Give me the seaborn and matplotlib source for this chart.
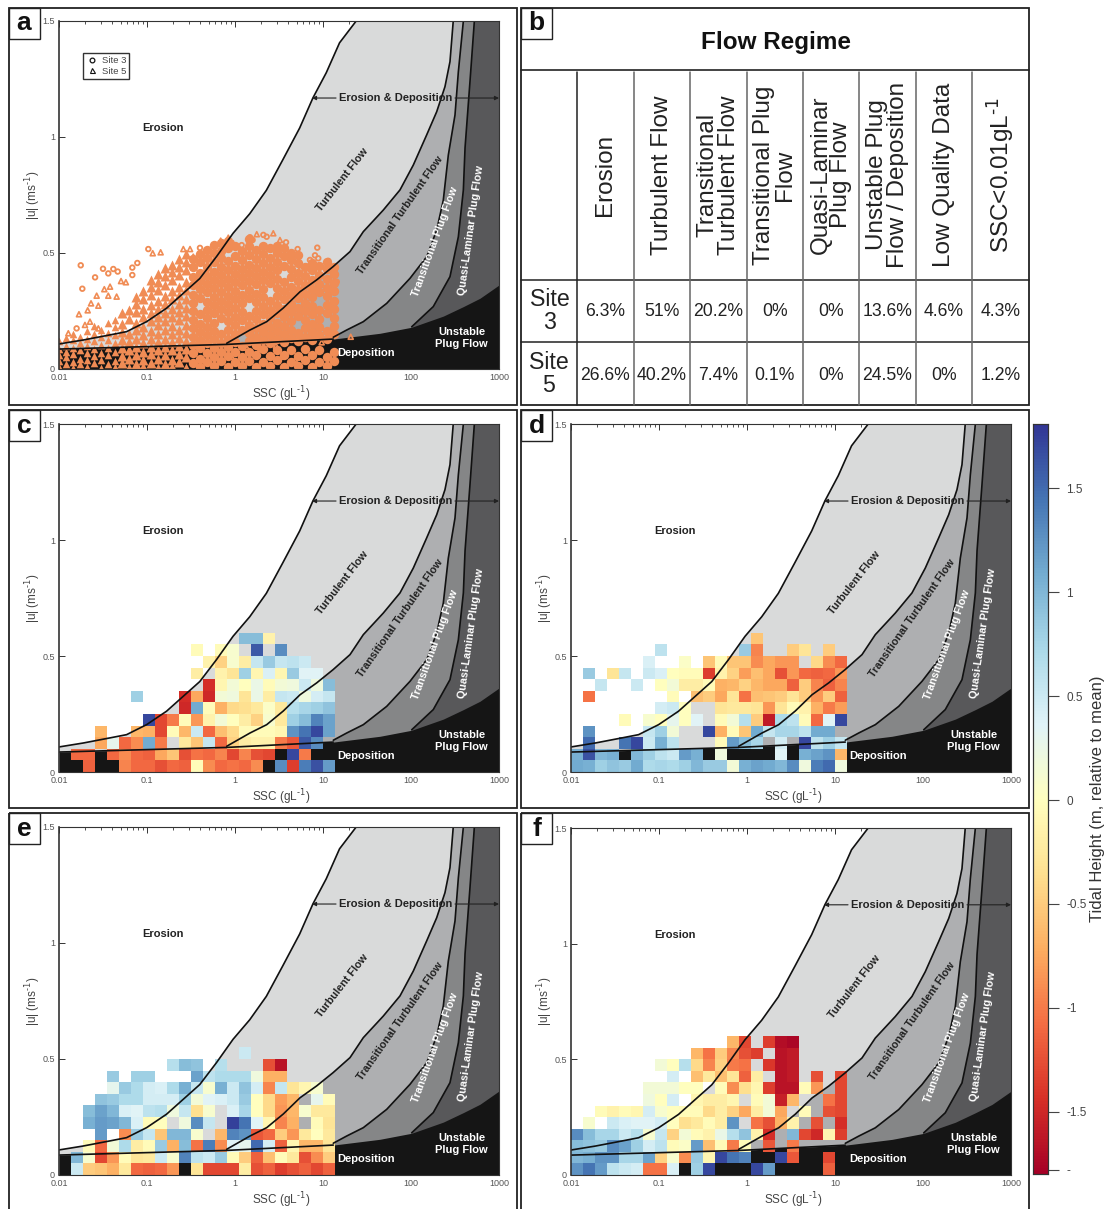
import numpy as np
import pandas as pd
import matplotlib
matplotlib.use('Agg')
import matplotlib.pyplot as plt
from matplotlib.lines import Line2D
from matplotlib.patches import Rectangle
import seaborn as sns

n = np.nan

# regime boundaries, log10(SSC) and |u|
curve1_log = [-2, -1.724, -1.421, -1.232, -1.005, -.778, -.589, -.4, -.211, -.022, .167, .356, .545, .735, .886, 1.037, 1.188, 1.377]
curve1_u = [.108, .125, .147, .161, .204, .262, .326, .39, .484, .585, .669, .77, .903, 1.039, 1.169, 1.277, 1.406, 1.5]
curve2_log = [-.094, .17, .36, .549, .739, .928, 1.114, 1.307, 1.458, 1.685, 1.875, 2.026, 2.178, 2.292, 2.386, 2.443, 2.48]
curve2_u = [.111, .168, .204, .263, .333, .384, .441, .506, .592, .685, .772, .879, 1.009, 1.109, 1.217, 1.325, 1.5]
curve3_log = [1.117, 1.269, 1.458, 1.724, 1.989, 2.178, 2.292, 2.367, 2.424, 2.5, 2.538, 2.595]
curve3_u = [.137, .168, .204, .283, .391, .484, .599, .728, .922, 1.095, 1.281, 1.5]
curve4_log = [2.008, 2.253, 2.443, 2.538, 2.595, 2.614, 2.67, 2.72]
curve4_u = [.182, .269, .398, .57, .772, .953, 1.238, 1.5]
floor_log = [-2, -.094, 1.117, 1.648, 2.008, 2.367, 2.595, 2.784, 3]
floor_u = [.086, .106, .129, .154, .18, .228, .269, .305, .362]

# panel a, dense parts of the cloud, log10(SSC) column -> |u|
site5_dense = {
    -2.00: [.01, .035, .06, .085, .12],
    -1.92: [.02, .05, .075, .10, .135],
    -1.84: [.005, .03, .065, .09, .125, .15],
    -1.76: [.02, .045, .08, .11, .14],
    -1.68: [.01, .04, .07, .10, .13, .165],
    -1.60: [.025, .055, .085, .12, .15, .185],
    -1.52: [.005, .04, .07, .105, .14, .17],
    -1.44: [.02, .06, .09, .125, .155, .20],
    -1.36: [.01, .035, .075, .11, .145, .18, .21],
    -1.28: [.025, .055, .09, .125, .16, .195, .24],
    -1.20: [.005, .045, .08, .115, .15, .215, .255],
    -1.12: [.02, .06, .095, .13, .17, .20, .245, .28, .31],
    -1.04: [.01, .04, .075, .11, .145, .18, .225, .26, .30, .335],
    -0.96: [.025, .065, .095, .13, .165, .205, .24, .275, .32, .355, .385],
    -0.88: [.005, .045, .08, .115, .15, .19, .225, .26, .295, .34, .375, .41],
    -0.80: [.02, .06, .095, .13, .17, .205, .24, .28, .315, .36, .40, .435],
    -0.72: [.01, .04, .08, .115, .15, .185, .225, .26, .30, .335, .385, .42, .45],
    -0.64: [.03, .065, .10, .135, .17, .21, .245, .28, .32, .355, .405, .44, .475],
    -0.56: [.005, .05, .085, .12, .155, .19, .23, .265, .30, .34, .375, .425, .46, .495],
}
site3_dense = {
    -0.48: [.025, .07, .105, .14, .175, .21, .25, .285, .32, .36, .395, .44, .475],
    -0.40: [.01, .045, .09, .125, .16, .195, .235, .305, .345, .38, .415, .46, .495],
    -0.32: [.03, .07, .11, .145, .18, .22, .255, .29, .33, .365, .40, .44, .48, .515],
    -0.24: [.015, .05, .09, .13, .165, .20, .24, .275, .31, .35, .385, .42, .46, .50, .535],
    -0.16: [.035, .075, .11, .15, .22, .26, .295, .33, .37, .405, .44, .48, .51, .545],
    -0.08: [.01, .055, .095, .13, .17, .205, .245, .28, .315, .355, .39, .425, .465, .52, .55],
    0.00: [.03, .075, .115, .15, .19, .225, .265, .30, .335, .375, .41, .445, .485, .53],
    0.08: [.015, .05, .10, .17, .21, .245, .285, .32, .36, .395, .43, .47, .51],
    0.16: [.035, .075, .12, .155, .19, .23, .305, .34, .38, .415, .45, .49, .53, .56],
    0.24: [.01, .06, .105, .14, .175, .215, .25, .29, .325, .365, .40, .435, .475, .515],
    0.32: [.03, .085, .125, .16, .195, .235, .27, .31, .345, .385, .42, .455, .495, .53],
    0.40: [.015, .055, .11, .145, .18, .22, .255, .295, .37, .405, .44, .48, .52],
    0.48: [.04, .08, .13, .165, .20, .24, .275, .315, .35, .39, .425, .46, .50, .53],
    0.56: [.01, .06, .115, .15, .185, .225, .26, .30, .335, .375, .445, .485, .52],
    0.64: [.03, .08, .135, .17, .205, .245, .28, .32, .355, .395, .43, .47, .50],
    0.72: [.015, .055, .12, .155, .23, .265, .305, .34, .38, .415, .455, .49],
    0.80: [.04, .085, .14, .175, .21, .25, .285, .325, .36, .40, .44],
    0.88: [.01, .06, .125, .16, .195, .235, .27, .31, .345, .385, .425, .455],
    0.96: [.03, .08, .145, .18, .215, .255, .33, .365, .405, .445],
    1.04: [.015, .05, .13, .165, .24, .275, .315, .35, .39, .43, .46],
    1.12: [.035, .075, .15, .185, .22, .26, .295, .335, .37, .41, .44],
}

# panel a, single open markers round the edge of the cloud
site3_edge_log = [-1.753, -1.735, -1.59, -1.5, -1.44, -1.383, -1.333, -.985, -1.167, -1.167, -1.11, -.398, -1.8,
                  .17, .322, .36, .2, .58, .712, .935, .076, .852, .909, .946, 1.06, .747, .815, 1.156, 1.136]
site3_edge_u = [.447, .346, .395, .432, .412, .431, .42, .517, .437, .405, .457, .522, .175,
                .568, .578, .57, .556, .546, .517, .523, .534, .47, .49, .477, .466, .427, .441, .376, .284]
site5_edge_log = [-.935, -.845, -1.773, -1.636, -1.572, -1.674, -1.553, -1.485, -1.44, -1.295, -1.24, -1.42, -1.345,
                  -1.894, -1.705, -1.648, -1.553, -.587, -.511, -.474, .247, .435, .511, .386, -.02, -.076, -.163, 1.315,
                  .644, .466, .284, .133, .985, .682, .53, -.037, -.17]
site5_edge_u = [.499, .503, .236, .283, .316, .253, .273, .344, .316, .379, .374, .355, .312,
                .154, .19, .204, .175, .517, .517, .484, .581, .585, .556, .517, .542, .566, .553, .139,
                .082, .1, .086, .092, .115, .039, .053, .053, .031]

# tidal height per bin, top row is |u| 0.55-0.60, bottom row 0-0.05
grid_c = [
    [n, n, n, n, n, n, n, n, n, n, n, n, n, n, n, .95, .95, -.15, n, n, n, n, n],
    [n, n, n, n, n, n, n, n, n, n, n, -.05, n, -.05, .1, n, 1.6, n, 1.3, n, n, n, n],
    [n, n, n, n, n, n, n, n, n, n, n, n, -.15, -.45, .1, -.2, .55, .85, .55, .6, .5, n, n],
    [n, n, n, n, n, n, n, n, n, n, n, -.2, n, -.15, -.3, .8, -.1, .4, -.1, .85, .35, .35, n],
    [n, n, n, n, n, n, n, n, n, n, n, n, -1.45, -.1, .15, 0, .25, -.05, .15, .2, .5, .2, .95],
    [n, n, n, n, n, n, .8, n, n, n, -1.45, -.75, -1.5, .15, .2, -.3, .25, -.2, .55, .5, .2, .45, .55],
    [n, n, n, n, n, n, n, n, n, n, -1.5, 1.1, -.05, -.7, -.4, -.35, -.25, .05, -.25, .65, .75, .8, .9],
    [n, n, n, n, n, n, n, 1.7, -1.3, -1.0, -.05, -.85, -.15, .15, 0, -.2, -.45, .1, -.25, .8, .95, 1.35, 1.15],
    [n, n, n, -.65, n, n, -.65, -.7, -1.3, -.05, -.65, .5, -1.1, -.6, -.4, -.05, -.05, -.05, -.1, 1.25, 1.45, 1.7, 1.15],
    [n, n, n, -.75, .3, -1.1, -.9, 1.1, -1.0, n, -.25, -.55, .55, -1.1, -.45, -.2, -.15, -.15, -1.0, -1.2, 1.6, 1.3, n],
    [n, -1.1, -1.1, n, -1.1, -.9, -1.1, -1.15, -.75, -.55, -1.25, -1.05, -1.1, -.95, -1.3, -.95, -1.25, -1.3, n, 1.7, -1.0, n, n],
    [n, n, -1.15, n, n, -.95, -1.1, -1.1, -1.25, -1.1, -1.15, -.05, -.9, -1.1, -1.05, -1.1, -.9, n, 1.3, -1.35, 1.4, 1.65, 1.2],
]
grid_d = [
    [n, n, n, n, n, n, n, n, n, n, n, n, n, n, n, -.55, n, n, n, n, n, n, n],
    [n, n, n, n, n, n, n, .6, n, n, n, n, n, n, .85, -.95, n, n, -.5, -.3, n, -.5, n],
    [n, n, n, n, n, n, .4, n, n, .05, n, -.55, -.05, -.55, -.55, -.9, -.75, -.85, -.85, n, -.4, -.9, -1.1],
    [n, .85, n, -.3, .55, n, .5, .4, 0, -.05, -.05, -1.35, -.15, -.45, -.8, -.6, -.75, -1.25, -.85, -1.1, -1.15, -1.1, -.85],
    [n, n, .55, n, n, .5, n, 0, .15, -.2, -.2, -.05, -.7, -.65, -.45, -.65, -.75, -.75, -1.15, -.5, -.95, -1.15, -.95],
    [n, -1.05, n, n, n, n, n, n, -.05, n, -.6, -.5, -.75, -.3, -1.05, -.6, -.55, -.5, -.3, -.5, -.85, -.5, -1.15],
    [n, n, n, n, n, n, n, .45, .5, 0, n, n, -.3, -.25, -.25, -.3, -.85, -.3, -.05, -.15, -.7, -1, -.8],
    [n, n, n, n, -.05, n, .1, 0, .3, 0, .35, n, -.05, .15, .65, -.5, -1.6, .7, .6, -.05, -1.1, .35, 1.7],
    [n, 1.25, n, n, n, n, .55, .8, .15, n, n, 1.7, -.7, -.05, -.55, 1.1, .55, .75, .75, .6, 1.1, 1.1, n],
    [n, 1.5, n, n, 1.45, 1.7, .5, 1.05, .6, n, n, n, -.05, 1.2, .95, .75, n, .45, n, 1.7, .6, .8, .55],
    [1.05, 1.65, 1.0, 1.05, n, 1.0, .8, .6, .5, 1.2, 1.05, n, .2, n, n, n, n, .35, n, 1.05, 1.15, 1.25, -.65],
    [1.1, 1.05, .8, .9, .85, 1.1, .7, .75, .7, .8, 1.0, .85, .85, .15, 1.05, 1.15, 1.1, 1.0, 1.3, .2, 1.4, 1.5, .2],
]
grid_e = [
    [n, n, n, n, n, n, n, n, n, n, n, n, n, n, n, n, n, n, n, n, n, n, n],
    [n, n, n, n, n, n, n, n, n, n, n, n, n, n, n, .5, n, n, n, n, n, n, n],
    [n, n, n, n, n, n, n, n, n, .65, .95, .9, n, .65, n, n, n, -1.25, -1.65, n, n, n, n],
    [n, n, n, n, .85, n, .8, .8, n, n, n, 1.15, .6, .7, .7, .7, .2, -.7, -.7, n, n, n, n],
    [n, n, n, n, .3, .85, .7, .45, .4, .7, 1.05, .55, .1, 1.05, .5, .9, .45, -.95, .55, -.3, -.1, .1, n],
    [n, n, n, .9, .85, .7, .7, .45, .45, .45, .8, .15, .35, .4, .5, .85, 0, -.4, -.8, -.65, n, .3, -.05],
    [n, n, .95, 1.15, 1.0, .4, .35, .6, .65, .2, .55, -.35, .1, n, .4, .75, 0, -.4, -.85, -.65, .1, -.25, -.25],
    [n, n, 1.05, 1.2, 1.15, 1.0, .4, -.05, 0, n, .2, 1.3, .55, n, 1.75, 1.45, .35, -.1, -.95, -.7, n, -.05, -.3],
    [n, n, n, 1.2, n, -.9, .85, .55, -.55, 1.0, 1.0, .1, n, -.65, 1.35, 1.25, -1.2, -1.1, -.5, -.85, -.25, 0, -.25],
    [n, n, -.05, -1.1, .15, .7, -.2, -.05, .85, -.7, .95, -1.05, 1.4, -.9, .35, .3, 1.5, .45, -1.15, -.1, -.65, -.65, -.3],
    [n, 1.0, .1, -1.3, -.85, -.05, -.3, -.25, .5, .1, 1.35, .6, .5, .85, -.05, -.5, -1.15, -.6, -.05, -.25, -1.25, -.9, -.5],
    [n, .5, -.5, -.55, -.7, -.25, -1.1, -1.15, -1.1, -.85, n, -.3, -1.3, -1.3, -1.3, -.2, -1.25, -1.15, -1.35, -1.25, -1.15, -1.3, -1.15],
]
grid_f = [
    [n, n, n, n, n, n, n, n, n, n, n, n, n, -.65, -1.3, n, -1.35, -1.7, -1.75, n, n, n, n],
    [n, n, n, n, n, n, n, n, n, n, -.65, -1.05, -.5, -.95, -1.25, -1.35, n, -1.65, -1.6, n, n, n, n],
    [n, n, n, n, n, n, n, .15, 0, .65, -.4, -.95, -.45, -1.0, -1.05, n, -1.4, -1.65, -1.6, n, n, n, n],
    [n, n, n, n, n, n, n, n, .45, n, -.6, -.25, -.6, -.3, -1.15, -.2, n, -1.65, -1.6, n, -1.25, n, -1.3],
    [n, n, n, n, n, n, .15, .15, .15, 0, 0, n, -.05, -.9, -.35, -.1, -1.35, -1.65, -1.65, -.05, -.85, n, -1.3],
    [n, n, n, n, n, n, .2, 0, .45, n, -.1, -.2, -.2, -.1, n, -.05, .15, -1.55, -.65, n, n, -1.05, -1.3],
    [n, n, -.05, -.15, -.05, -.1, .45, .1, 0, -.05, -.05, -.4, -.2, -.45, -.75, -.2, .15, -.75, n, -.05, n, -1.25, -1.3],
    [n, .1, n, .5, .4, .35, .35, .45, 0, -.35, -.25, -.05, -.2, 1.25, n, -1.05, -1.25, -.7, -.15, n, -1.25, n, -1.45],
    [1.3, .95, .75, .75, .5, .65, .1, .55, -.45, .15, -.05, -.15, .25, .65, .9, -.15, -1.45, n, 1.0, -1.3, -1.5, -.1, -1.35],
    [.95, .9, .85, 1.3, 1.15, .8, .45, .6, -.05, .05, 1.2, -.6, -.05, -1.0, -.05, n, -1.2, n, -1.0, n, n, n, n],
    [1.0, 1.05, 1.25, 1.25, .75, .75, 1.15, -.45, .1, -.9, .85, -.1, 1.7, 1.45, 1.35, n, n, 1.7, -1.2, n, n, -1.3, n],
    [1.25, 1.45, 1.2, .6, .5, .45, -1.05, -1.05, .4, n, .8, 1.7, n, n, n, 1.7, 1.2, n, n, n, n, -1.15, n],
]

# panel b
regime_names = ['Erosion', 'Turbulent Flow', 'Transitional\nTurbulent Flow', 'Transitional Plug\nFlow',
                'Quasi-Laminar\nPlug Flow', 'Unstable Plug\nFlow / Deposition', 'Low Quality Data', r'SSC<0.01gL$^{\text{-1}}$']
site3_pct = ['6.3%', '51%', '20.2%', '0%', '0%', '13.6%', '4.6%', '4.3%']
site5_pct = ['26.6%', '40.2%', '7.4%', '0.1%', '0%', '24.5%', '0%', '1.2%']

regime_labels = [
    ('Erosion', .236, .693, 0, '#222222', 8),
    ('Turbulent Flow', .645, .543, 52, '#222222', 7.8),
    ('Transitional Turbulent Flow', .775, .443, 55, '#222222', 7.8),
    ('Transitional Plug Flow', .855, .366, 70, 'white', 7.8),
    ('Quasi-Laminar Plug Flow', .936, .399, 82, 'white', 7.8),
    ('Unstable\nPlug Flow', .915, .089, 0, 'white', 8),
    ('Deposition', .699, .047, 0, 'white', 8),
    ('Erosion & Deposition', .766, .778, 0, '#222222', 8),
]

sns.set_theme(style='white')
plt.rcParams['font.family'] = ['Liberation Sans', 'DejaVu Sans']
plt.rcParams['mathtext.default'] = 'regular'

W, H = 1104, 1209
ORANGE = '#F08C55'
VMIN, VMAX = -1.8, 1.81

fig = plt.figure(figsize=(W / 100, H / 100), dpi=100)

# page layer in pixel coordinates for frames and the table
page = fig.add_axes([0, 0, 1, 1])
page.set_xlim(0, W)
page.set_ylim(H, 0)
page.axis('off')


def frame(x0, y0, x1, y1, letter):
    page.add_patch(Rectangle((x0, y0), x1 - x0, y1 - y0, fill=False, ec='#222222', lw=1.3))
    page.add_patch(Rectangle((x0, y0), 31, 31, fc='white', ec='#222222', lw=1))
    page.text(x0 + 15.5, y0 + 16, letter, fontsize=19, fontweight='bold', ha='center', va='center', color='#111111')


def make_axes(x0, y0, y1):
    return fig.add_axes([x0 / W, 1 - y1 / H, 440 / W, (y1 - y0) / H])


def set_axis_labels(ax):
    ax.set_xlabel(r'SSC (gL$^{\text{-1}}$)', fontsize=8.5, color='#444444')
    ax.set_ylabel(r'|u| (ms$^{\text{-1}}$)', fontsize=8.5, color='#444444')
    ax.xaxis.set_label_coords(.505, -.045)
    ax.yaxis.set_label_coords(-.036, .5)


def draw_regimes(ax):
    ax.set_xscale('log')
    ax.set_xlim(.01, 1000)
    ax.set_ylim(0, 1.5)
    layers = [(curve1_log, curve1_u, '#D9DADA'), (curve2_log, curve2_u, '#AEAFB1'),
              (curve3_log, curve3_u, '#858687'), (curve4_log, curve4_u, '#58585A')]
    for lg, u, col in layers:
        x = 10 ** np.array(lg)
        ax.fill(np.r_[x, 1000, 1000, x[0]], np.r_[u, 1.5, 0, 0], color=col, lw=0, zorder=1)
    ax.fill_between(10 ** np.array(floor_log), floor_u, 0, color='#151515', lw=0, zorder=1.5)

    for lg, u in [(curve1_log, curve1_u), (curve2_log, curve2_u), (curve3_log, curve3_u), (curve4_log, curve4_u)]:
        ax.plot(10 ** np.array(lg), u, color='#111111', lw=1.2, zorder=3)
    ax.plot(10 ** np.array(floor_log[:3]), floor_u[:3], color='#111111', lw=1.2, zorder=3)

    arrow = dict(arrowstyle='-|>', lw=.8, color='#222222', mutation_scale=6, shrinkA=0, shrinkB=0)
    ax.annotate('', xy=(10 ** .875, 1.168), xytext=(10 ** 1.148, 1.168), arrowprops=arrow, zorder=4)
    ax.annotate('', xy=(1000, 1.168), xytext=(10 ** 2.5, 1.168), arrowprops=arrow, zorder=4)

    for txt, x, y, rot, col, size in regime_labels:
        ax.text(x, y, txt, transform=ax.transAxes, rotation=rot, rotation_mode='anchor', color=col,
                fontsize=size, fontweight='bold', ha='center', va='center', zorder=5, linespacing=1.3)

    ax.set_xticks([.01, .1, 1, 10, 100, 1000])
    ax.set_xticklabels(['0.01', '0.1', '1', '10', '100', '1000'])
    ax.set_yticks([0, .5, 1, 1.5])
    ax.set_yticklabels(['0', '0.5', '1', '1.5'])
    ax.xaxis.set_minor_locator(matplotlib.ticker.LogLocator(base=10, subs=range(2, 10), numticks=12))
    ax.xaxis.set_minor_formatter(matplotlib.ticker.NullFormatter())
    ax.tick_params(which='major', direction='in', top=True, right=True, bottom=True, left=True, length=4, width=.7,
                   color='#333333', labelsize=6.5, labelcolor='#555555', pad=3)
    ax.tick_params(which='minor', direction='in', top=True, bottom=True, length=2, width=.6, color='#333333')
    set_axis_labels(ax)
    for sp in ax.spines.values():
        sp.set_color('#333333')
        sp.set_linewidth(.8)
        sp.set_zorder(6)
    ax.spines['left'].set_linewidth(1.2)


def draw_heat(ax, grid, cax=None):
    inset = ax.inset_axes([0, 0, 276 / 440, .4], zorder=2)
    sns.heatmap(np.array(grid, dtype=float), ax=inset, cmap='RdYlBu', vmin=VMIN, vmax=VMAX, linewidths=0,
                xticklabels=False, yticklabels=False, cbar=cax is not None, cbar_ax=cax)
    inset.patch.set_visible(False)
    for sp in inset.spines.values():
        sp.set_visible(False)
    return inset


def columns_frame(cols):
    return pd.DataFrame([(10 ** k, u) for k, vals in cols.items() for u in vals], columns=['ssc', 'u'])


# panel a
frame(8.5, 7.5, 517, 405, 'a')
ax_a = make_axes(59, 21, 369)
draw_regimes(ax_a)
df5 = columns_frame(site5_dense)
df3 = columns_frame(site3_dense)
# the far left of the cloud is thin, markers there stay small
sns.scatterplot(data=df5[df5.ssc < .05], x='ssc', y='u', marker='^', s=30, color=ORANGE, linewidth=0, ax=ax_a, zorder=2)
sns.scatterplot(data=df5[df5.ssc >= .05], x='ssc', y='u', marker='^', s=52, color=ORANGE, linewidth=0, ax=ax_a, zorder=2)
sns.scatterplot(data=df3, x='ssc', y='u', marker='o', s=46, color=ORANGE, linewidth=0, ax=ax_a, zorder=2)
sns.scatterplot(x=10 ** np.array(site3_edge_log), y=site3_edge_u, marker='o', s=11, facecolor='none', edgecolor=ORANGE,
                linewidth=1.3, ax=ax_a, zorder=2.1)
sns.scatterplot(x=10 ** np.array(site5_edge_log), y=site5_edge_u, marker='^', s=13, facecolor='none', edgecolor=ORANGE,
                linewidth=1.2, ax=ax_a, zorder=2.1)
set_axis_labels(ax_a)
handles = [Line2D([], [], ls='', marker='o', ms=3.4, mfc='none', mec='#111111', mew=.9),
           Line2D([], [], ls='', marker='^', ms=3.6, mfc='none', mec='#111111', mew=.8)]
ax_a.legend(handles, ['Site 3', 'Site 5'], loc='upper left', bbox_to_anchor=(24 / 440, 1 - 32 / 348), borderaxespad=0,
            fontsize=6.8, labelcolor='#444444', fancybox=False, framealpha=1, edgecolor='#333333', borderpad=.3,
            handletextpad=.5, labelspacing=.2, handlelength=1.2)

# panel b, the table
frame(521, 7.5, 1029, 405, 'b')
col_edges = [577.3, 633.7, 690.3, 746.7, 803, 859.3, 916, 972.3]
page.text(776, 42, 'Flow Regime', fontsize=17.5, fontweight='bold', ha='center', va='center', color='#111111')
page.plot([521, 1029], [70.3, 70.3], color='#222222', lw=1.2)
page.plot([521, 1029], [280, 280], color='#222222', lw=1.1)
page.plot([521, 1029], [342, 342], color='#222222', lw=1.1)
for i, xe in enumerate(col_edges):
    page.plot([xe, xe], [72, 405], color='#222222' if i == 0 else '#666666', lw=1.1)
for i, name in enumerate(regime_names):
    cx = col_edges[i] + 28
    page.text(cx, 175, name, fontsize=17.5, rotation=90, ha='center', va='center', linespacing=.92,
              color='#222222', multialignment='center')
    page.text(cx, 312, site3_pct[i], fontsize=12.7, ha='center', va='center', color='#222222')
    page.text(cx, 375, site5_pct[i], fontsize=12.7, ha='center', va='center', color='#222222')
page.text(550, 311, 'Site\n3', fontsize=16.7, ha='center', va='center', linespacing=.96, color='#222222')
page.text(549, 374, 'Site\n5', fontsize=16.7, ha='center', va='center', linespacing=.96, color='#222222')

# panels c to f
cax = fig.add_axes([1033 / W, 1 - 1174 / H, 15 / W, 750 / H])
panels = [('c', 8.5, 410, 808, 59, 424, 772, grid_c), ('d', 521, 410, 808, 571, 424, 772, grid_d),
          ('e', 8.5, 813, 1215, 59, 827, 1175, grid_e), ('f', 521, 813, 1215, 571, 828, 1175, grid_f)]
for letter, fx, fy0, fy1, x0, y0, y1, grid in panels:
    frame(fx, fy0, fx + 508.5 if fx < 100 else 1029, fy1, letter)
    ax = make_axes(x0, y0, y1)
    draw_regimes(ax)
    draw_heat(ax, grid, cax if letter == 'f' else None)

# colourbar
cax.set_yticks([1.5, 1, .5, 0, -.5, -1, -1.5, -1.78])
cax.set_yticklabels(['1.5', '1', '0.5', '0', '-0.5', '-1', '-1.5', '-'])
cax.tick_params(axis='y', right=True, length=8, width=.8, color='#444444', labelsize=8.5, labelcolor='#444444', pad=5)
for sp in cax.spines.values():
    sp.set_visible(True)
    sp.set_color('#333333')
    sp.set_linewidth(.8)
cax.set_ylabel('Tidal Height (m, relative to mean)', fontsize=12, color='#333333')
cax.yaxis.set_label_position('right')
cax.yaxis.set_label_coords(3.8, .5)

fig.savefig('out.png', dpi=100)
